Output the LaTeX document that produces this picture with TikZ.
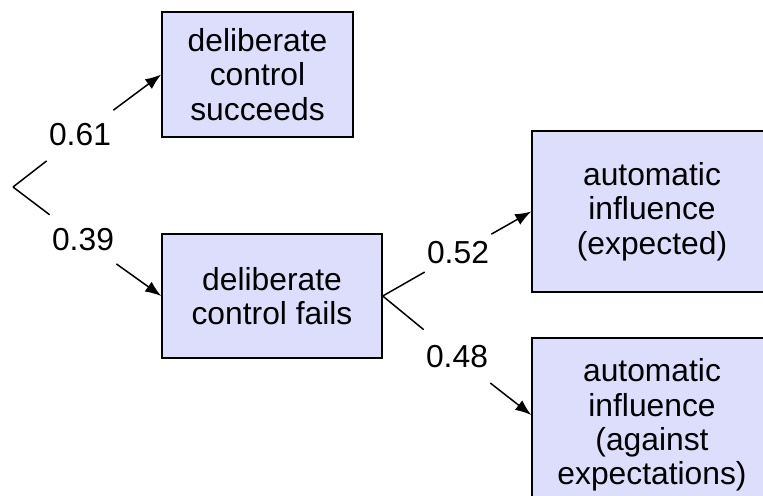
\documentclass[tikz,border=0pt]{standalone}
\usepackage{fontspec}
\setmainfont{Liberation Sans}
\usepackage{tikz}
\usepackage{color}
\usetikzlibrary{shapes,arrows,arrows.meta,positioning}
\definecolor{boxfill}{RGB}{221,222,252}
\tikzset{outcome/.style={rectangle, draw, fill=boxfill, align=center, inner sep=0pt, line width=0.75pt}}
\tikzset{prob/.style={rectangle, inner xsep=1pt, inner ysep=0pt, minimum height=27pt}}
\tikzset{branch/.style={draw, line width=0.75pt}}
\tikzset{line/.style={draw, line width=0.75pt, -{Latex[length=8pt, width=6pt]}}}

\begin{document}
\begin{tikzpicture}[x=0.5pt, y=-0.5pt, font=\fontsize{15.9}{17.2}\selectfont]
        \useasboundingbox (0,0) rectangle (763,495);
        \clip (0,0) rectangle (763,495);
        \coordinate (root) at (13,187);
        \node[outcome, minimum width=95.5pt, minimum height=62.5pt] (succ) at (257.5,74.5) {deliberate\\control\\succeeds};
        \node[outcome, minimum width=110pt, minimum height=62pt]   (fail) at (272,296) {deliberate\\control fails};
        \node[outcome, minimum width=120pt, minimum height=80.5pt] (expt) at (652,211.5) {automatic\\influence\\(expected)};
        \node[outcome, minimum width=120pt, minimum height=87pt]   (agst) at (652,425) {automatic\\influence\\(against\\expectations)};
        \node[prob] (psucc) at (80,135) {0.61};
        \node[prob] (pfail) at (83,240) {0.39};
        \node[prob] (pexpt) at (458,253) {0.52};
        \node[prob] (pagst) at (457,357) {0.48};

        \path[branch] (root) --        (psucc);
        \path[branch] (root) --        (pfail);
        \path[line] (psucc) --         (succ.west);
        \path[line] (pfail) --         (fail.west);
        \path[branch] (fail.east) --   (pexpt);
        \path[branch] (fail.east) --   (pagst);
        \path[line] (pexpt) --         (expt.west);
        \path[line] (pagst) --         ([yshift=5pt]agst.west);
      \end{tikzpicture}
\end{document}
